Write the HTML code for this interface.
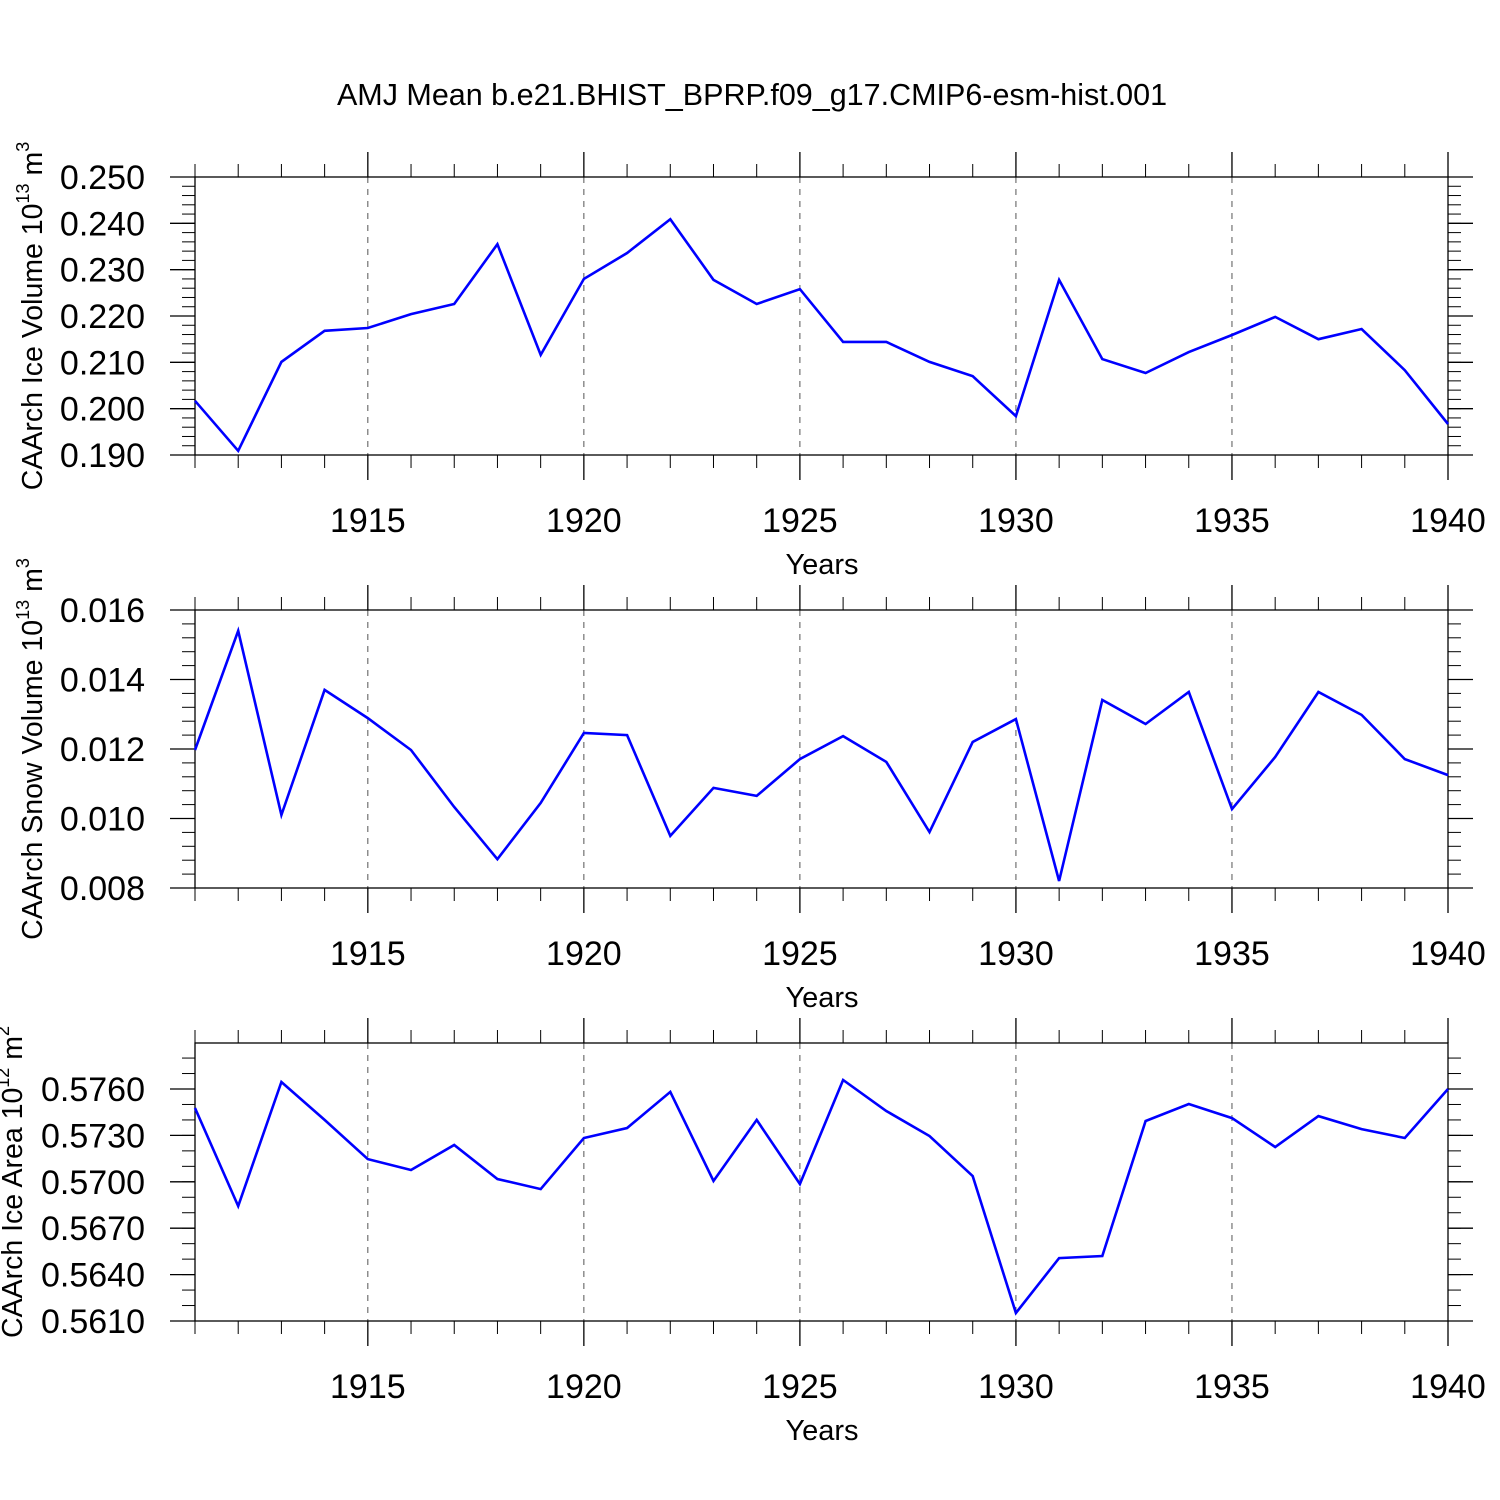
<!DOCTYPE html>
<html><head><meta charset="utf-8"><style>
html,body{margin:0;padding:0;background:#fff;width:1500px;height:1500px;overflow:hidden}
svg text{font-family:"Liberation Sans",sans-serif;fill:#000}
</style></head><body>
<svg id="chart" width="1500" height="1500" viewBox="0 0 1500 1500" xmlns="http://www.w3.org/2000/svg">
<rect width="1500" height="1500" fill="#fff"/>
<text x="752" y="105" font-size="30.5" text-anchor="middle">AMJ Mean b.e21.BHIST_BPRP.f09_g17.CMIP6-esm-hist.001</text>
</svg>
<script>
const years = [1911,1912,1913,1914,1915,1916,1917,1918,1919,1920,1921,1922,1923,1924,1925,1926,1927,1928,1929,1930,1931,1932,1933,1934,1935,1936,1937,1938,1939,1940];
const xTickLabels = [1915,1920,1925,1930,1935,1940];
const iceVolume = [0.2017,0.1909,0.2101,0.2168,0.2174,0.2204,0.2226,0.2355,0.2116,0.2280,0.2336,0.2409,0.2278,0.2226,0.2258,0.2144,0.2144,0.2101,0.2070,0.1984,0.2278,0.2107,0.2077,0.2122,0.2159,0.2198,0.2150,0.2172,0.2083,0.1967];
const snowVolume = [0.01197,0.01540,0.01010,0.01370,0.01289,0.01197,0.01033,0.00883,0.01045,0.01246,0.01240,0.00950,0.01088,0.01065,0.01171,0.01237,0.01163,0.00961,0.01220,0.01286,0.00820,0.01341,0.01272,0.01364,0.01027,0.01177,0.01364,0.01298,0.01171,0.01125];
const iceArea = [0.57477,0.56843,0.57645,0.57400,0.57147,0.57076,0.57238,0.57018,0.56953,0.57283,0.57348,0.57581,0.57005,0.57400,0.56986,0.57658,0.57458,0.57296,0.57037,0.56152,0.56507,0.56520,0.57393,0.57503,0.57412,0.57225,0.57425,0.57341,0.57283,0.57600];
const iceVolTicks = ["0.190","0.200","0.210","0.220","0.230","0.240","0.250"];
const snowTicks = ["0.008","0.010","0.012","0.014","0.016"];
const areaTicks = ["0.5610","0.5640","0.5670","0.5700","0.5730","0.5760"];

const NS="http://www.w3.org/2000/svg";
const svg=document.getElementById('chart');
function mk(tag,attrs,parent){const e=document.createElementNS(NS,tag);for(const k in attrs)e.setAttribute(k,attrs[k]);(parent||svg).appendChild(e);return e;}
const L=195,R=1448,X0=1911,X1=1940;
const xs=v=>L+(v-X0)/(X1-X0)*(R-L);

const panels=[
 {name:'ice-volume',top:177,bot:455,ymin:0.190,ymax:0.250,ticks:iceVolTicks,minor:0.002,data:iceVolume,title:'CAArch Ice Volume 10',exp:'13',unit:' m',uexp:'3',tx:42},
 {name:'snow-volume',top:610,bot:888,ymin:0.008,ymax:0.016,ticks:snowTicks,minor:0.0004,data:snowVolume,title:'CAArch Snow Volume 10',exp:'13',unit:' m',uexp:'3',tx:42},
 {name:'ice-area',top:1043,bot:1321,ymin:0.5610,ymax:0.5610+278/232*0.015,ticks:areaTicks,minor:0.001,data:iceArea,title:'CAArch Ice Area 10',exp:'12',unit:' m',uexp:'2',tx:22}
];
panels.forEach(p=>{
 const g=mk('g',{});
 
 
 const ys=v=>p.bot-(v-p.ymin)/(p.ymax-p.ymin)*(p.bot-p.top);
 xTickLabels.forEach(y=>{
  if(y===X1)return;
  const l=mk('line',{x1:xs(y),x2:xs(y),y1:p.top,y2:p.bot,stroke:'#555','stroke-width':1,'stroke-dasharray':'6,6'},g);
  
  
 });
 years.forEach(y=>{
  const major=(y%5===0);
  const len=major?25:13;
  mk('line',{x1:xs(y),x2:xs(y),y1:p.top-len,y2:p.top,stroke:'#000','stroke-width':major?1.3:1},g);
  mk('line',{x1:xs(y),x2:xs(y),y1:p.bot,y2:p.bot+len,stroke:'#000','stroke-width':major?1.3:1},g);
 });
 for(let v=p.ymin;v<=p.ymax+1e-9;v+=p.minor){
  const y=ys(v);
  mk('line',{x1:L-13,x2:L,y1:y,y2:y,stroke:'#000','stroke-width':1},g);
  mk('line',{x1:R,x2:R+13,y1:y,y2:y,stroke:'#000','stroke-width':1},g);
 }
 p.ticks.forEach(t=>{
  const y=ys(parseFloat(t));
  mk('line',{x1:L-25,x2:L,y1:y,y2:y,stroke:'#000','stroke-width':1.3},g);
  mk('line',{x1:R,x2:R+25,y1:y,y2:y,stroke:'#000','stroke-width':1.3},g);
  const tx=mk('text',{x:145,y:y+12,'font-size':34,'text-anchor':'end'},g);
  tx.textContent=t;
  
  
 });
 const fr=mk('rect',{x:L,y:p.top,width:R-L,height:p.bot-p.top,fill:'none',stroke:'#000','stroke-width':1.3},g);
 
 
 xTickLabels.forEach(y=>{
  const tx=mk('text',{x:xs(y),y:p.bot+77,'font-size':34,'text-anchor':'middle'},g);
  tx.textContent=y;
  
  
 });
 const xt=mk('text',{x:822,y:p.bot+119,'font-size':29,'text-anchor':'middle'},g);
 xt.textContent='Years';
 
 
 const cy=(p.top+p.bot)/2;
 const yt=mk('text',{x:0,y:0,'font-size':28.5,'text-anchor':'middle',transform:`translate(${p.tx},${cy}) rotate(-90)`},g);
 
 
 yt.appendChild(document.createTextNode(p.title));
 const s1=mk('tspan',{'font-size':18,dy:-13},yt);s1.textContent=p.exp;
 const s2=mk('tspan',{dy:13},yt);s2.textContent=p.unit;
 const s3=mk('tspan',{'font-size':18,dy:-13},yt);s3.textContent=p.uexp;
 const pts=p.data.map((v,i)=>xs(years[i]).toFixed(1)+','+ys(v).toFixed(1)).join(' ');
 const pl=mk('polyline',{points:pts,fill:'none',stroke:'#0000ff','stroke-width':2.6,'stroke-linejoin':'miter'},g);
 
 
});
</script>
</body></html>
